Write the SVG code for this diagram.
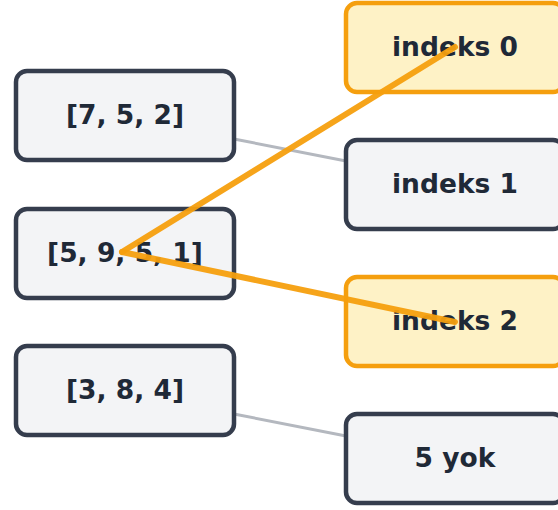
<svg xmlns="http://www.w3.org/2000/svg" width="558" height="510" viewBox="0 0 558 510">
  <style>
    .box { fill: #f3f4f6; stroke: #353d4d; stroke-width: 4.5; }
    .hit { fill: #fef2c6; stroke: #f59f0e; stroke-width: 4.5; }
    .lbl { font-family: "DejaVu Sans", sans-serif; font-weight: bold; font-size: 26.5px; fill: #1f2937; text-anchor: middle; }
    .link { stroke: #b4b8bf; stroke-width: 3; fill: none; }
    .pick { stroke: #f59f0e; stroke-width: 6; fill: none; stroke-linecap: round; opacity: 0.95; }
  </style>
  <rect width="558" height="510" fill="#ffffff"/>

  <!-- plain links between lists and results -->
  <g id="links">
    <line class="link" x1="234" y1="139" x2="346" y2="161"/>
    <line class="link" x1="234" y1="414" x2="346" y2="436"/>
  </g>

  <!-- input lists -->
  <g id="list-752">
    <rect class="box" x="16" y="71" width="218" height="89" rx="11"/>
    <text class="lbl" x="125" y="124">[7, 5, 2]</text>
  </g>
  <g id="list-7951">
    <rect class="box" x="16" y="209" width="218" height="89" rx="11"/>
    <text class="lbl" x="125" y="262">[5, 9, 5, 1]</text>
  </g>
  <g id="list-384">
    <rect class="box" x="16" y="346" width="218" height="89" rx="11"/>
    <text class="lbl" x="125" y="399">[3, 8, 4]</text>
  </g>

  <!-- results -->
  <g id="idx-0">
    <rect class="hit" x="346" y="3" width="218" height="89" rx="11"/>
    <text class="lbl" x="455" y="56">indeks 0</text>
  </g>
  <g id="idx-1">
    <rect class="box" x="346" y="140" width="218" height="89" rx="11"/>
    <text class="lbl" x="455" y="193">indeks 1</text>
  </g>
  <g id="idx-2">
    <rect class="hit" x="346" y="277" width="218" height="89" rx="11"/>
    <text class="lbl" x="455" y="330">indeks 2</text>
  </g>
  <g id="none">
    <rect class="box" x="346" y="414" width="218" height="89" rx="11"/>
    <text class="lbl" x="455" y="467">5 yok</text>
  </g>

  <!-- highlighted matches drawn on top -->
  <g id="matches">
    <line class="pick" x1="122" y1="252" x2="455" y2="47"/>
    <line class="pick" x1="122" y1="252" x2="455" y2="322"/>
  </g>
</svg>
